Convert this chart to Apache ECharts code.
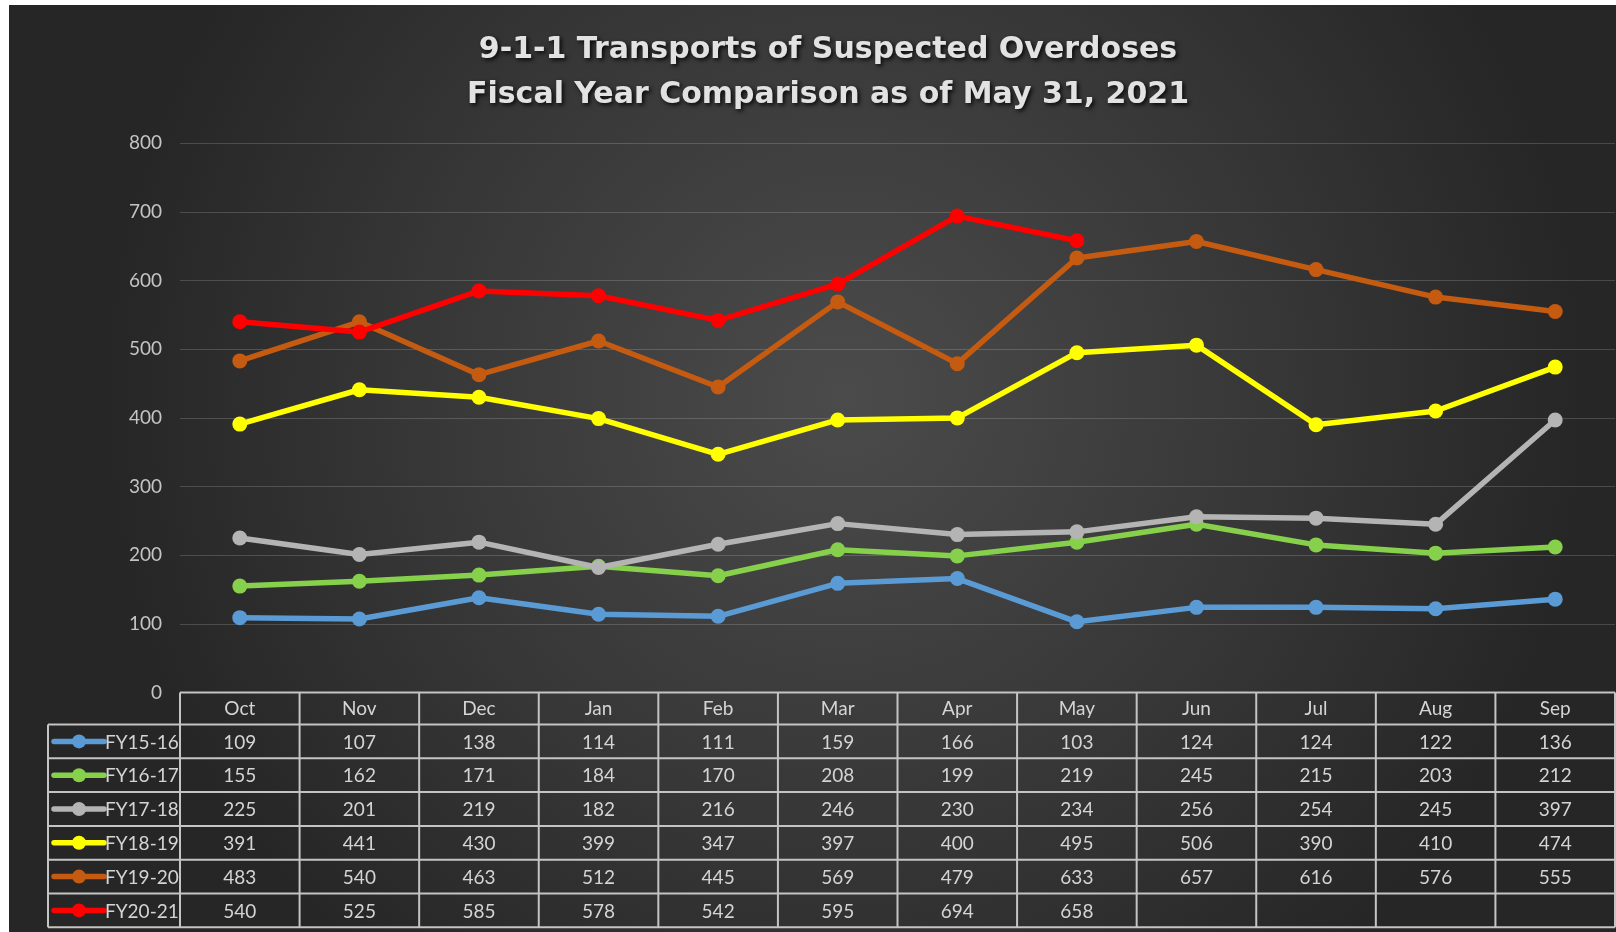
<!DOCTYPE html>
<html>
<head>
<meta charset="utf-8">
<script src="https://cdn.jsdelivr.net/npm/echarts@6/dist/echarts.min.js"></script>
<style>
  html, body { margin: 0; padding: 0; background: #ffffff; }
  #chart { position: absolute; left: 9px; top: 5px; width: 1607px; height: 927px; }
</style>
</head>
<body>
<div id="chart"></div>
<script>
// months of the fiscal year
const months = ['Oct', 'Nov', 'Dec', 'Jan', 'Feb', 'Mar', 'Apr', 'May', 'Jun', 'Jul', 'Aug', 'Sep']
const yTicks = [0, 100, 200, 300, 400, 500, 600, 700, 800]

const seriesNames = ['FY15-16', 'FY16-17', 'FY17-18', 'FY18-19', 'FY19-20', 'FY20-21']
const fy1516 = [109, 107, 138, 114, 111, 159, 166, 103, 124, 124, 122, 136]
const fy1617 = [155, 162, 171, 184, 170, 208, 199, 219, 245, 215, 203, 212]
const fy1718 = [225, 201, 219, 182, 216, 246, 230, 234, 256, 254, 245, 397]
const fy1819 = [391, 441, 430, 399, 347, 397, 400, 495, 506, 390, 410, 474]
const fy1920 = [483, 540, 463, 512, 445, 569, 479, 633, 657, 616, 576, 555]
const fy2021 = [540, 525, 585, 578, 542, 595, 694, 658, null, null, null, null]
const seriesData = [fy1516, fy1617, fy1718, fy1819, fy1920, fy2021]
const colors = ['#5b9bd5', '#86d04c', '#b4b4b4', '#ffff00', '#c55a11', '#ff0000']

const txtColor = '#d4d4d4'
const borderColor = '#c4c4c4'
const headerH = 32
const rowH = 33.8

const chart = echarts.init(document.getElementById('chart'))

const series = seriesNames.map((name, i) => ({
    name: name,
    type: 'line',
    data: seriesData[i],
    symbol: 'circle',
    symbolSize: 15,
    lineStyle: {width: 5.5, color: colors[i]},
    itemStyle: {color: colors[i]},
    connectNulls: false,
    z: 3 + i
}))

const option = {
    backgroundColor: {
        type: 'radial', x: 0.52, y: 0.42, r: 0.8,
        colorStops: [
            {offset: 0, color: '#4b4b4b'},
            {offset: 0.6, color: '#363636'},
            {offset: 1, color: '#262626'}
        ]
    },
    animation: false,
    title: {
        text: '9-1-1 Transports of Suspected Overdoses\nFiscal Year Comparison as of May 31, 2021',
        left: 814,
        top: 18,
        textAlign: 'center',
        textStyle: {
            color: '#e2e2e2',
            fontFamily: 'DejaVu Sans',
            fontWeight: 'bold',
            fontSize: 30,
            lineHeight: 45,
            textShadowColor: 'rgba(0,0,0,0.85)',
            textShadowBlur: 4,
            textShadowOffsetX: 2,
            textShadowOffsetY: 2
        }
    },
    grid: {left: 171, right: 1, top: 138.3, bottom: 239.5, containLabel: false},
    xAxis: {
        type: 'category',
        data: months,
        boundaryGap: true,
        axisLine: {show: false},
        axisTick: {show: false},
        axisLabel: {color: txtColor, fontFamily: 'Lato', fontSize: 19, margin: 7}
    },
    yAxis: {
        type: 'value',
        min: yTicks[0],
        max: yTicks[yTicks.length - 1],
        interval: 100,
        axisLine: {show: false},
        axisTick: {show: false},
        axisLabel: {color: '#c4c4c4', fontFamily: 'Lato', fontSize: 19, margin: 18},
        splitLine: {lineStyle: {color: 'rgba(255,255,255,0.17)', width: 1}}
    },
    series: series
}

chart.setOption(option)

// build the data table (with legend keys) under the plot from the axis positions
function buildTable() {
    const x0 = chart.convertToPixel({xAxisIndex: 0}, 0)
    const x1 = chart.convertToPixel({xAxisIndex: 0}, 1)
    const band = x1 - x0
    const left = x0 - band / 2
    const right = left + band * months.length
    const top = chart.convertToPixel({yAxisIndex: 0}, 0)
    const rowTop = top + headerH
    const bottom = rowTop + rowH * seriesNames.length
    const legLeft = 39
    const els = []
    const line = (xa, ya, xb, yb) => els.push({
        type: 'line', shape: {x1: xa, y1: ya, x2: xb, y2: yb},
        style: {stroke: borderColor, lineWidth: 2}, z: 1
    })
    // horizontal lines
    line(left, top, right, top)
    for (let r = 0; r <= seriesNames.length; r++) {
        line(legLeft, rowTop + r * rowH, right, rowTop + r * rowH)
    }
    // vertical lines
    line(legLeft, rowTop, legLeft, bottom)
    for (let c = 0; c <= months.length; c++) {
        line(left + c * band, top, left + c * band, bottom)
    }
    for (let r = 0; r < seriesData.length; r++) {
        const cy = rowTop + r * rowH + rowH / 2
        // legend key
        els.push({
            type: 'line', z: 2, shape: {x1: 45, y1: cy, x2: 95, y2: cy},
            style: {stroke: colors[r], lineWidth: 5.5, lineCap: 'round'}
        })
        els.push({
            type: 'circle', z: 3, shape: {cx: 70, cy: cy, r: 7},
            style: {fill: colors[r]}
        })
        els.push({
            type: 'text', z: 2, x: 96, y: cy + 1,
            style: {
                text: seriesNames[r], fill: txtColor, font: '19px Lato',
                align: 'left', verticalAlign: 'middle'
            }
        })
        // cell values
        for (let c = 0; c < months.length; c++) {
            const v = seriesData[r][c]
            if (v == null) continue
            els.push({
                type: 'text', z: 2,
                x: chart.convertToPixel({xAxisIndex: 0}, c),
                y: cy + 1,
                style: {
                    text: String(v), fill: txtColor, font: '19px Lato',
                    align: 'center', verticalAlign: 'middle'
                }
            })
        }
    }
    chart.setOption({graphic: {elements: els}})
}
buildTable()
</script>
</body>
</html>
